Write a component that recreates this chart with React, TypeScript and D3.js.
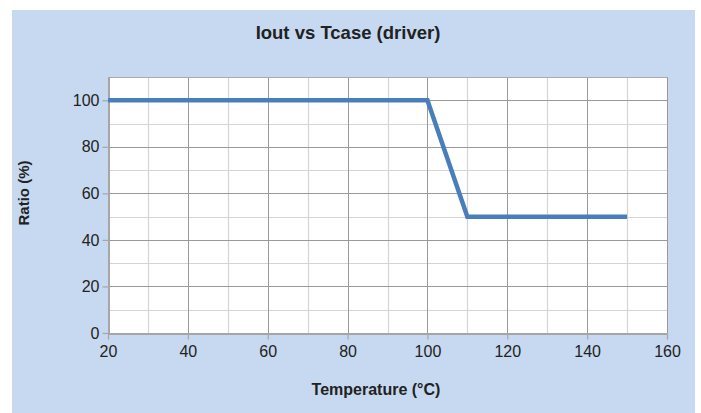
import React, { useEffect, useRef } from "react"
import * as d3 from "d3"

const W = 701
const H = 413
const PLOT = { left: 108, right: 667, top: 77, bottom: 333 }

const temps = [20, 100, 110, 150]
const ratios = [100, 100, 50, 50]
const xTicks = [20, 40, 60, 80, 100, 120, 140, 160]
const yTicks = [0, 20, 40, 60, 80, 100]
const xMinor = [30, 50, 70, 90, 110, 130, 150]
const yMinor = [10, 30, 50, 70, 90]

const FONT = "'Liberation Sans', Arial, sans-serif"

export default function App() {
  const svgRef = useRef<SVGSVGElement | null>(null)

  useEffect(() => {
    const svgEl = svgRef.current
    if (!svgEl) return
    const svg = d3.select(svgEl)
    svg.selectAll("*").remove()

    const x = d3.scaleLinear().domain([20, 160]).range([PLOT.left, PLOT.right])
    const y = d3.scaleLinear().domain([0, 110]).range([PLOT.bottom, PLOT.top])

    // panel
    svg
      .append("rect")
      .attr("x", 12)
      .attr("y", 10)
      .attr("width", 683)
      .attr("height", H - 10)
      .attr("fill", "#c6d9f0")

    svg
      .append("rect")
      .attr("x", PLOT.left)
      .attr("y", PLOT.top)
      .attr("width", PLOT.right - PLOT.left)
      .attr("height", PLOT.bottom - PLOT.top)
      .attr("fill", "#fff")

    const grid = svg.append("g")
    // minor lines
    grid
      .selectAll("line.xm")
      .data(xMinor)
      .join("line")
      .attr("x1", d => Math.round(x(d)) + 0.5)
      .attr("x2", d => Math.round(x(d)) + 0.5)
      .attr("y1", PLOT.top)
      .attr("y2", PLOT.bottom)
      .attr("stroke", "#d4d4d4")
      .attr("stroke-width", 1.2)
    grid
      .selectAll("line.ym")
      .data(yMinor)
      .join("line")
      .attr("y1", d => Math.round(y(d)) + 0.5)
      .attr("y2", d => Math.round(y(d)) + 0.5)
      .attr("x1", PLOT.left)
      .attr("x2", PLOT.right)
      .attr("stroke", "#d4d4d4")
      .attr("stroke-width", 1.2)
    // major lines
    grid
      .selectAll("line.xM")
      .data(xTicks.slice(1))
      .join("line")
      .attr("x1", d => Math.round(x(d)) + 0.5)
      .attr("x2", d => Math.round(x(d)) + 0.5)
      .attr("y1", PLOT.top)
      .attr("y2", PLOT.bottom)
      .attr("stroke", "#999")
    grid
      .selectAll("line.yM")
      .data(yTicks.slice(1))
      .join("line")
      .attr("y1", d => Math.round(y(d)) + 0.5)
      .attr("y2", d => Math.round(y(d)) + 0.5)
      .attr("x1", PLOT.left)
      .attr("x2", PLOT.right)
      .attr("stroke", "#999")
    // top border of plot
    grid
      .append("line")
      .attr("x1", PLOT.left)
      .attr("x2", PLOT.right)
      .attr("y1", PLOT.top + 0.5)
      .attr("y2", PLOT.top + 0.5)
      .attr("stroke", "#aaa")

    // axes
    const xAxis = d3
      .axisBottom(x)
      .tickValues(xTicks)
      .tickSize(6)
      .tickSizeOuter(0)
      .tickPadding(6)
    const gx = svg
      .append("g")
      .attr("transform", `translate(0,${PLOT.bottom + 0.5})`)
      .call(xAxis)
    const yAxis = d3
      .axisLeft(y)
      .tickValues(yTicks)
      .tickSize(6)
      .tickSizeOuter(0)
      .tickPadding(3)
    const gy = svg
      .append("g")
      .attr("transform", `translate(${PLOT.left + 0.5},0)`)
      .call(yAxis)
    for (const g of [gx, gy]) {
      g.select(".domain").attr("stroke", "#a6a6a6").attr("stroke-width", 2)
      g.selectAll(".tick line").attr("stroke", "#a6a6a6").attr("stroke-width", 1.2)
      g.selectAll(".tick text")
        .attr("fill", "#222")
        .style("font-family", FONT)
        .style("font-size", "16px")
    }

    // data line
    const line = d3
      .line<number>()
      .x((_, i) => x(temps[i]))
      .y(d => y(d))
    svg
      .append("path")
      .datum(ratios)
      .attr("d", line)
      .attr("fill", "none")
      .attr("stroke", "#4a7ebb")
      .attr("stroke-width", 4.5)
      .attr("stroke-linejoin", "miter")

    // titles
    svg
      .append("text")
      .attr("x", 348)
      .attr("y", 39)
      .attr("text-anchor", "middle")
      .attr("fill", "#222")
      .style("font-family", FONT)
      .style("font-weight", "bold")
      .style("font-size", "18.5px")
      .text("Iout vs Tcase (driver)")
    svg
      .append("text")
      .attr("x", 376)
      .attr("y", 395)
      .attr("text-anchor", "middle")
      .attr("fill", "#222")
      .style("font-family", FONT)
      .style("font-weight", "bold")
      .style("font-size", "16px")
      .text("Temperature (°C)")
    svg
      .append("text")
      .attr("transform", "translate(29,193) rotate(-90)")
      .attr("text-anchor", "middle")
      .attr("fill", "#222")
      .style("font-family", FONT)
      .style("font-weight", "bold")
      .style("font-size", "15px")
      .text("Ratio (%)")
  }, [])

  return (
    <svg
      ref={svgRef}
      width={W}
      height={H}
      style={{ position: "absolute", left: 0, top: 0, display: "block", background: "#fff" }}
    />
  )
}
